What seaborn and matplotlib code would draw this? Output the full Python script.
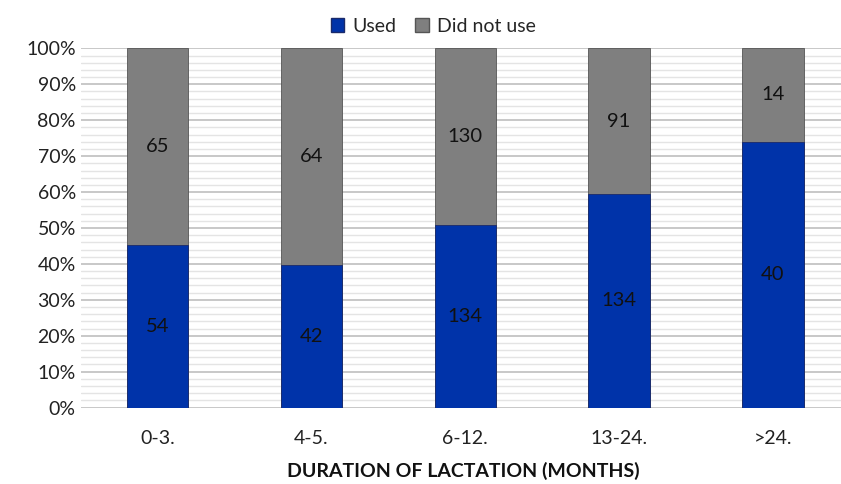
import numpy as np
import pandas as pd
import seaborn as sns
import matplotlib.pyplot as plt
from matplotlib.ticker import MultipleLocator, PercentFormatter
from matplotlib.patches import Patch

categories = ["0-3.", "4-5.", "6-12.", "13-24.", ">24."]
used = [54, 42, 134, 134, 40]
did_not_use = [65, 64, 130, 91, 14]

blue = "#0033A9"
grey = "#7F7F7F"

df = pd.DataFrame({"Duration": categories, "Used": used, "Did not use": did_not_use})
df["Total"] = df["Used"] + df["Did not use"]
df["UsedPct"] = df["Used"] / df["Total"] * 100
df["AllPct"] = 100.0

sns.set_style("white")
plt.rcParams["font.family"] = ["Lato", "DejaVu Sans"]

fig, ax = plt.subplots(figsize=(8.41, 4.84), dpi=100)
fig.subplots_adjust(left=0.096, right=1.005, top=0.9, bottom=0.158)

sns.barplot(data=df, x="Duration", y="AllPct", color=grey, width=0.4, saturation=1,
            edgecolor="#555555", linewidth=0.6, ax=ax, zorder=3)
sns.barplot(data=df, x="Duration", y="UsedPct", color=blue, width=0.4, saturation=1,
            edgecolor="#1a2a6a", linewidth=0.6, ax=ax, zorder=3)

# labels in the middle of each segment
grey_bars = ax.containers[0]
blue_bars = ax.containers[1]
for i, (gb, bb) in enumerate(zip(grey_bars, blue_bars)):
    x = gb.get_x() + gb.get_width() / 2
    u = df["UsedPct"][i]
    ax.text(x, u / 2, str(used[i]), ha="center", va="center", fontsize=14.5, color="#111111", zorder=4)
    ax.text(x, u + (100 - u) / 2, str(did_not_use[i]), ha="center", va="center",
            fontsize=14.5, color="#111111", zorder=4)

ax.set_ylim(0, 100)
ax.set_xlim(-0.5, 4.47)
ax.yaxis.set_major_locator(MultipleLocator(10))
ax.yaxis.set_minor_locator(MultipleLocator(2))
ax.yaxis.set_major_formatter(PercentFormatter(decimals=0))
ax.grid(axis="y", which="major", color="#BFBFBF", linewidth=1.2, zorder=0)
ax.grid(axis="y", which="minor", color="#E4E4E4", linewidth=1.0, zorder=0)
ax.tick_params(axis="both", which="both", length=0, labelsize=14, colors="#222222")
ax.tick_params(axis="x", pad=16)
for s in ax.spines.values():
    s.set_visible(False)

ax.set_ylabel("")
ax.set_xlabel("DURATION OF LACTATION (MONTHS)", fontsize=14, fontweight="bold",
              color="#111111", labelpad=11)

handles = [Patch(facecolor=blue, edgecolor="#1a2a6a"), Patch(facecolor=grey, edgecolor="#555555")]
fig.legend(handles, ["Used", "Did not use"], loc="upper center", bbox_to_anchor=(0.515, 1.0),
           ncol=2, frameon=False, fontsize=14, handlelength=0.7, handleheight=0.7,
           handletextpad=0.4, columnspacing=1.0)

fig.savefig("out.png", dpi=100)
